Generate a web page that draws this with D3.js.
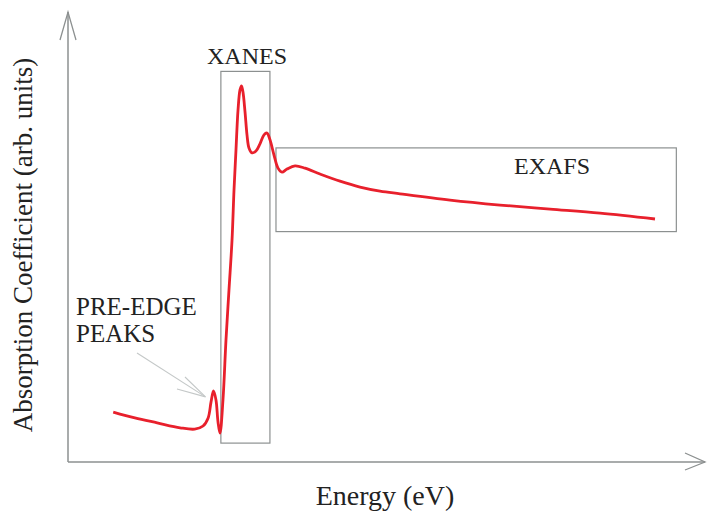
<!DOCTYPE html>
<html>
<head>
<meta charset="utf-8">
<script src="https://cdn.jsdelivr.net/npm/d3@7"></script>
<style>
  body { margin: 0; background: #fff; }
  text { font-family: "Liberation Serif", "DejaVu Serif", serif; fill: #222; }
</style>
</head>
<body>
<div id="chart"></div>
<script>

// Spectrum (relative energy, arb. units)
var energy = [7.1, 10.5, 14.0, 17.6, 19.9, 21.2, 22.0, 22.45, 22.84, 23.23, 23.55, 23.86,
  24.33, 24.8, 25.27, 25.75, 26.06, 26.37, 26.69, 27.0, 27.24, 27.47, 27.79, 28.1, 28.41,
  28.89, 29.51, 30.14, 30.77, 31.24, 31.71, 32.34, 32.97, 33.59, 34.38, 35.64, 37.21,
  39.56, 42.7, 45.84, 48.98, 52.12, 59.97, 67.82, 75.67, 83.52, 92.15];
var absorption = [0.111, 0.098, 0.087, 0.076, 0.073, 0.080, 0.098, 0.133, 0.158, 0.138, 0.089, 0.064,
  0.138, 0.271, 0.382, 0.493, 0.604, 0.693, 0.782, 0.827, 0.836, 0.822, 0.778, 0.727, 0.698,
  0.687, 0.691, 0.707, 0.727, 0.731, 0.716, 0.682, 0.653, 0.644, 0.651, 0.658, 0.653,
  0.640, 0.624, 0.611, 0.602, 0.596, 0.582, 0.571, 0.562, 0.553, 0.540];

// Regions marked on the plot
var regionNames = ['XANES', 'EXAFS'];
var regionX0 = [24.0, 32.65];
var regionX1 = [31.7, 95.5];
var regionY0 = [0.042, 0.512];
var regionY1 = [0.868, 0.698];

var width = 707, height = 522;
var margin = {top: 12, right: 2, bottom: 60, left: 68};

var svg = d3.select('#chart').append('svg')
  .attr('width', width)
  .attr('height', height);

var x = d3.scaleLinear().domain([0, 100])
  .range([margin.left, width - margin.right]);
var y = d3.scaleLinear().domain([0, 1])
  .range([height - margin.bottom, margin.top]);

var axisColor = '#8c9090';

/////////// Axes (plain lines with open arrow heads, no ticks) ///////////

svg.append('line')
  .attr('x1', x(0)).attr('y1', y(0))
  .attr('x2', x(0)).attr('y2', y(1))
  .attr('stroke', axisColor).attr('stroke-width', 1.5);
svg.append('path')
  .attr('d', 'M' + (x(0) - 8) + ',' + (y(1) + 28) + 'L' + x(0) + ',' + y(1) + 'L' + (x(0) + 8) + ',' + (y(1) + 28))
  .attr('fill', 'none').attr('stroke', axisColor).attr('stroke-width', 1.3);

svg.append('line')
  .attr('x1', x(0)).attr('y1', y(0))
  .attr('x2', x(100)).attr('y2', y(0))
  .attr('stroke', axisColor).attr('stroke-width', 1.5);
svg.append('path')
  .attr('d', 'M' + (x(100) - 20) + ',' + (y(0) - 9) + 'L' + x(100) + ',' + y(0) + 'L' + (x(100) - 20) + ',' + (y(0) + 8))
  .attr('fill', 'none').attr('stroke', axisColor).attr('stroke-width', 1.3);

// Axis titles
svg.append('text')
  .attr('x', 385).attr('y', 505)
  .attr('text-anchor', 'middle')
  .attr('font-size', 28)
  .text('Energy (eV)');

svg.append('text')
  .attr('transform', 'translate(32,245) rotate(-90)')
  .attr('text-anchor', 'middle')
  .attr('font-size', 27)
  .text('Absorption Coefficient (arb. units)');

/////////// Region boxes ///////////

svg.selectAll('rect.region')
  .data(regionNames)
  .enter()
    .append('rect')
    .attr('class', 'region')
    .attr('x', function(d, i) { return x(regionX0[i]); })
    .attr('y', function(d, i) { return y(regionY1[i]); })
    .attr('width', function(d, i) { return x(regionX1[i]) - x(regionX0[i]); })
    .attr('height', function(d, i) { return y(regionY0[i]) - y(regionY1[i]); })
    .attr('fill', 'none')
    .attr('stroke', axisColor)
    .attr('stroke-width', 1.2);

// Region labels
svg.append('text')
  .attr('x', 247).attr('y', 64)
  .attr('text-anchor', 'middle').attr('font-size', 24)
  .text(regionNames[0]);

svg.append('text')
  .attr('x', 552).attr('y', 174)
  .attr('text-anchor', 'middle').attr('font-size', 24)
  .text(regionNames[1]);

/////////// Spectrum ///////////

var points = energy.map(function(e, i) { return [e, absorption[i]]; });

var line = d3.line()
  .x(function(d) { return x(d[0]); })
  .y(function(d) { return y(d[1]); })
  .curve(d3.curveCatmullRom.alpha(0.5));

svg.append('path')
  .datum(points)
  .attr('d', line)
  .attr('fill', 'none')
  .attr('stroke', '#e8202c')
  .attr('stroke-width', 2.8)
  .attr('stroke-linejoin', 'round');

/////////// Pre-edge annotation ///////////

svg.append('text')
  .attr('x', 76).attr('y', 315)
  .attr('font-size', 25)
  .text('PRE-EDGE');
svg.append('text')
  .attr('x', 76).attr('y', 342)
  .attr('font-size', 25)
  .text('PEAKS');

// arrow pointing at the pre-edge peak
var tipX = x(energy[8]) - 8, tipY = y(absorption[8]) + 6;
svg.append('line')
  .attr('x1', 137).attr('y1', 353)
  .attr('x2', tipX).attr('y2', tipY)
  .attr('stroke', '#c4c8c8').attr('stroke-width', 1.1);
svg.append('path')
  .attr('d', 'M177,389L' + tipX + ',' + tipY + 'L185,377')
  .attr('fill', 'none').attr('stroke', '#c4c8c8').attr('stroke-width', 1.1);

</script>
</body>
</html>
